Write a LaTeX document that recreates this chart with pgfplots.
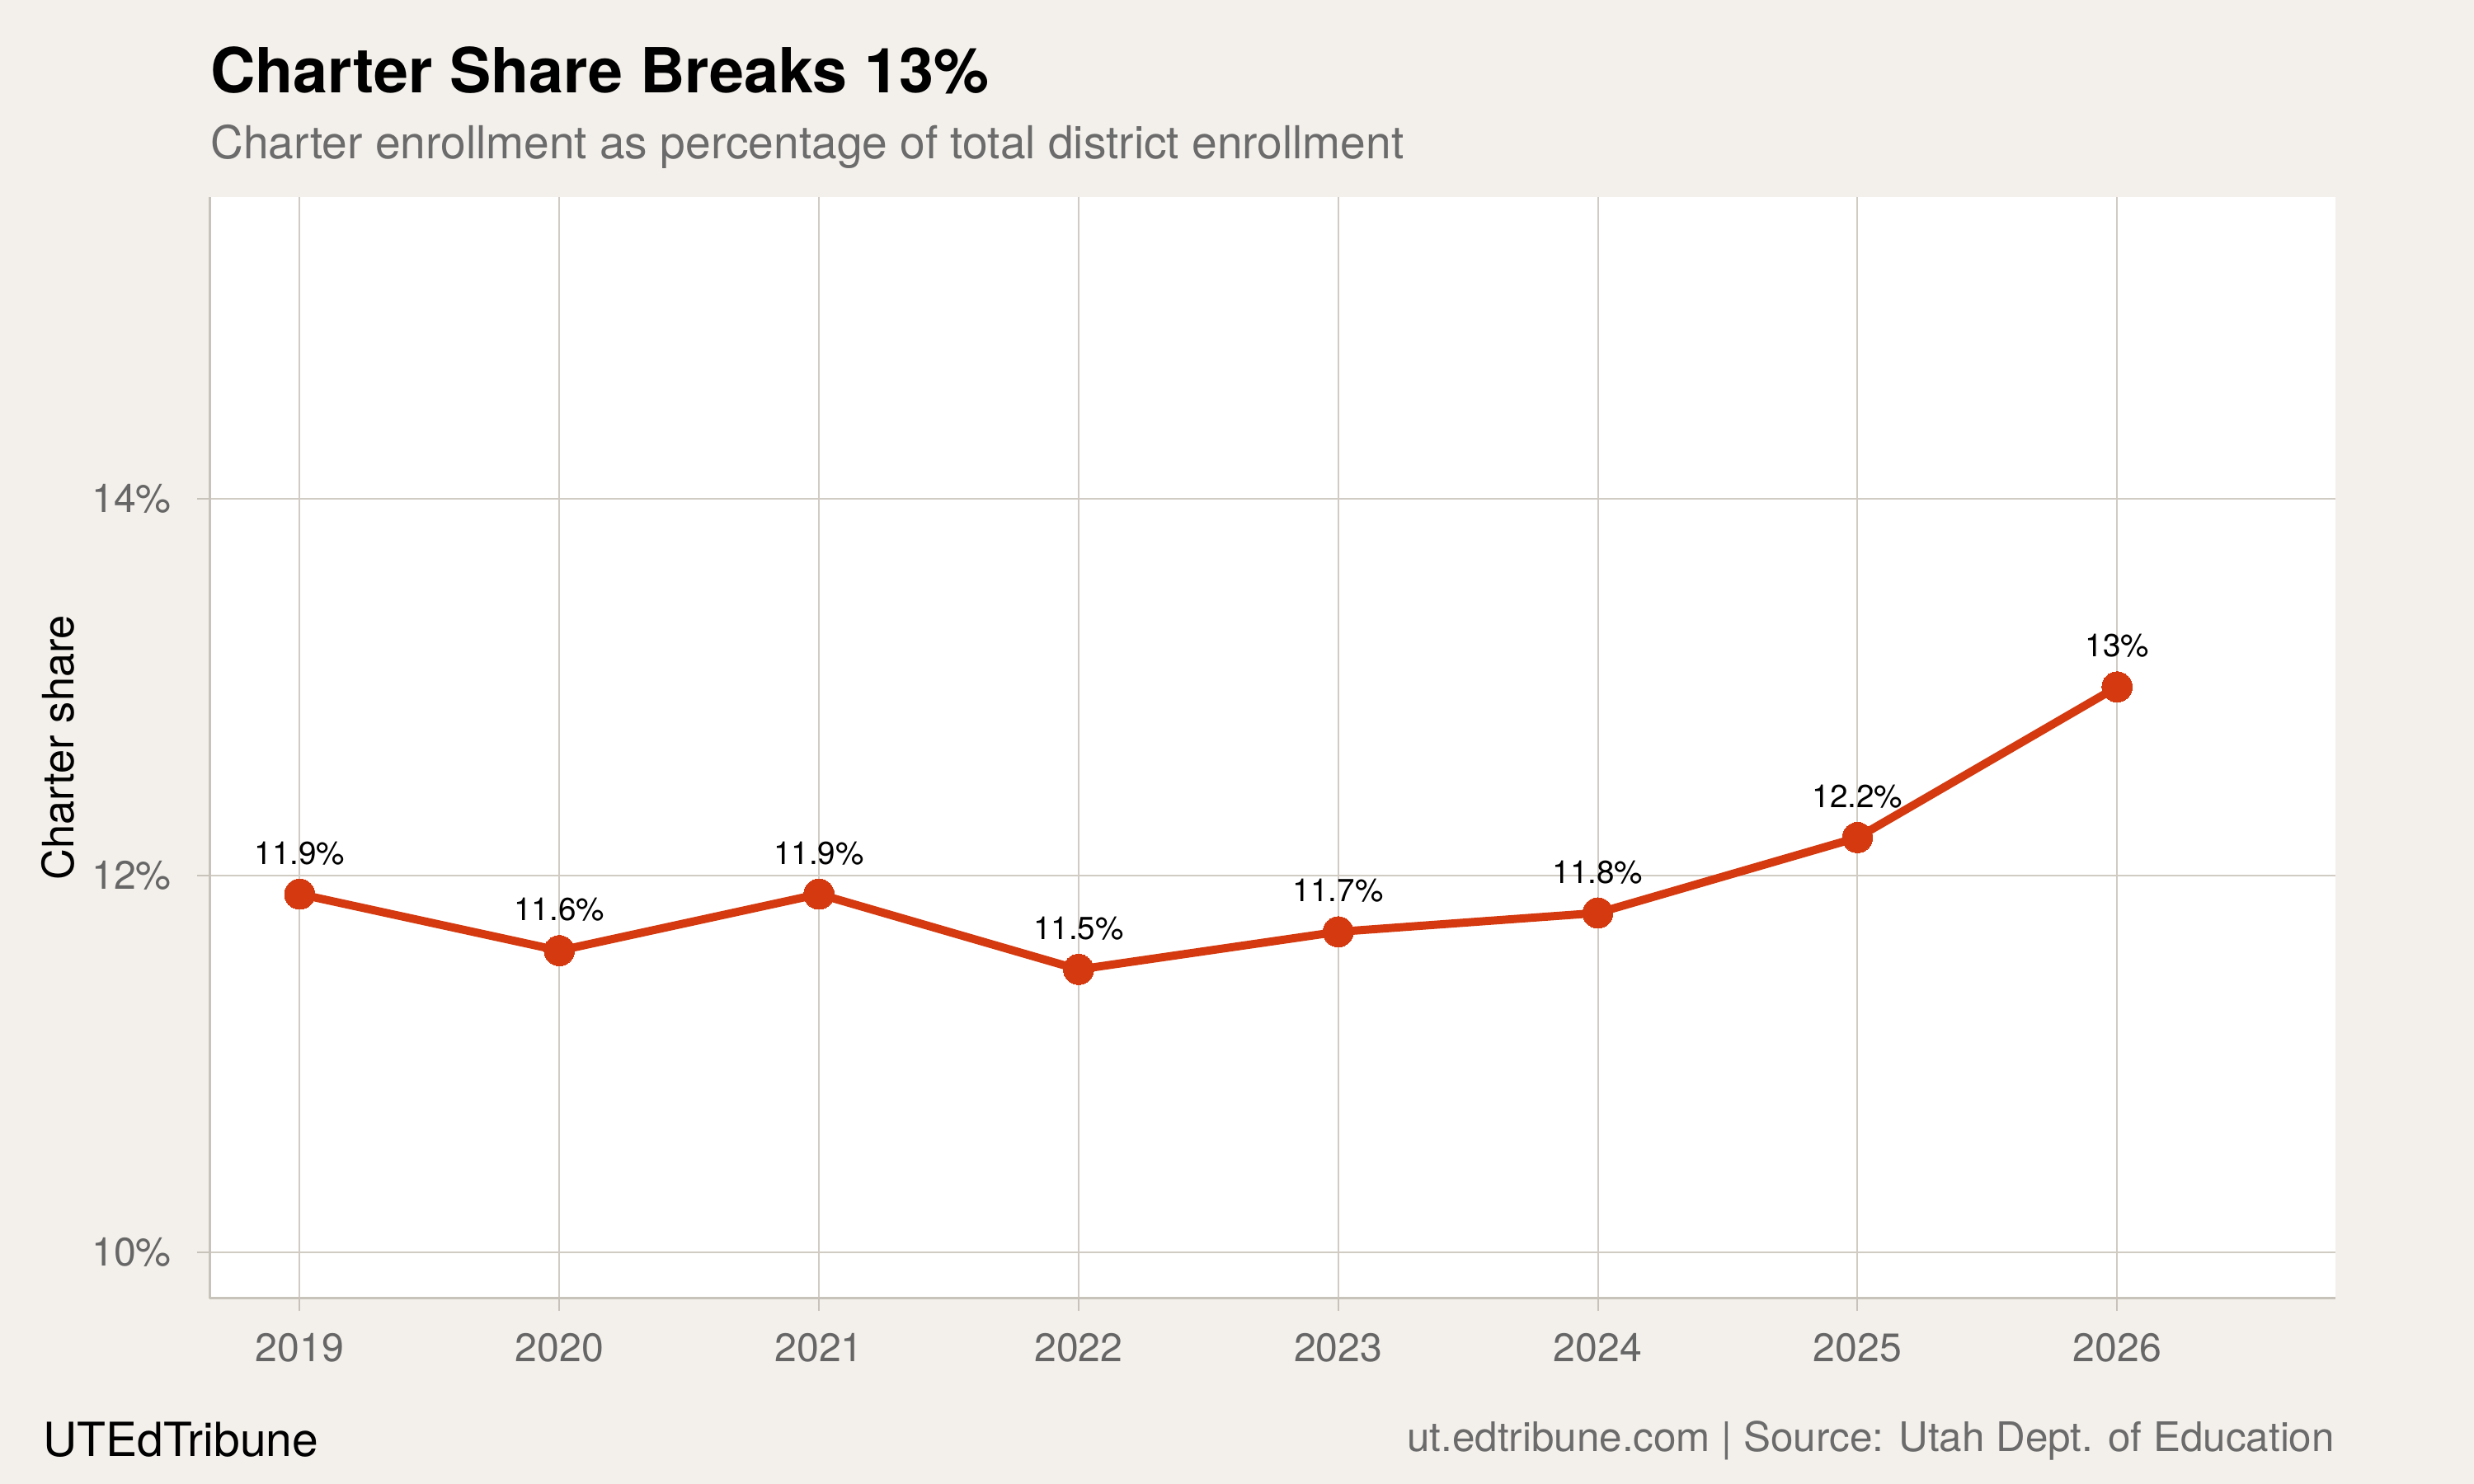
\documentclass[border=0pt]{standalone}
\usepackage{fontspec}
\setmainfont{TeX Gyre Heros}
\usepackage{pgfplots}
\pgfplotsset{compat=1.18}
\usepackage{pgfplotstable}
\definecolor{bg}{HTML}{F3F0EB}
\definecolor{gridc}{HTML}{D0CBC3}
\definecolor{axc}{HTML}{C8C3BA}
\definecolor{linec}{HTML}{D4390F}
\definecolor{tickc}{HTML}{666666}
\definecolor{subc}{HTML}{6B6B6B}

\pgfplotstableread{
year share label
2019 11.9 11.9
2020 11.6 11.6
2021 11.9 11.9
2022 11.5 11.5
2023 11.7 11.7
2024 11.8 11.8
2025 12.2 12.2
2026 13.0 13
}\datatable

\begin{document}
\begin{tikzpicture}
\fill[bg] (0,0) rectangle (784pt,470.4pt);
\begin{axis}[
  at={(66.5pt,58.9pt)}, anchor=south west,
  scale only axis, width=673.5pt, height=349pt,
  xmin=2018.654, xmax=2026.84, ymin=9.755, ymax=15.6,
  axis x line*=bottom, axis y line*=left,
  axis line style={-, axc, line width=0.9pt},
  axis background/.style={fill=white},
  xtick={2019,2020,2021,2022,2023,2024,2025,2026},
  xticklabels={2019,2020,2021,2022,2023,2024,2025,2026},
  ytick={10,12,14}, yticklabels={10\%,12\%,14\%},
  grid=major, major grid style={gridc, line width=0.55pt},
  tick align=outside, major tick length=4pt, tick style={axc, line width=0.55pt},
  tick label style={font=\fontsize{12.6}{14}\selectfont, text=tickc},
  /pgf/number format/assume math mode=true,
  xticklabel style={anchor=base, inner sep=0pt, yshift=-16pt},
  yticklabel style={anchor=east, inner sep=0pt, xshift=-8pt},
  clip=false,
]
\addplot[linec, line width=2.6pt, mark=*, mark size=4.8pt,
  mark options={fill=linec, draw=linec, line width=0pt},
  nodes near coords={\pgfplotspointmeta\%}, point meta=explicit symbolic,
  every node near coord/.style={anchor=base, yshift=9.5pt, inner sep=0pt,
    font=\fontsize{10.1}{12}\selectfont, text=black}]
  table[x=year, y=share, meta=label] {\datatable};
\end{axis}
\node[anchor=base west, inner sep=0pt, font=\fontsize{19.7}{22}\selectfont\bfseries, text=black] at (66.5pt,440.9pt) {Charter Share Breaks 13\%};
\node[anchor=base west, inner sep=0pt, font=\fontsize{14.4}{17}\selectfont, text=subc] at (66.5pt,420.15pt) {Charter enrollment as percentage of total district enrollment};
\node[rotate=90, inner sep=0pt, font=\fontsize{13.7}{16}\selectfont, text=black] at (18.5pt,233.4pt) {Charter share};
\node[anchor=base west, inner sep=0pt, font=\fontsize{14.9}{17}\selectfont, text=black] at (13.5pt,8.65pt) {UTEdTribune};
\node[anchor=base east, inner sep=0pt, font=\fontsize{12.9}{15}\selectfont, text=subc] at (740pt,10.2pt) {ut.edtribune.com | Source: Utah Dept. of Education};
\pgfresetboundingbox
\useasboundingbox (0,0) rectangle (784pt,470.4pt);
\end{tikzpicture}
\end{document}
